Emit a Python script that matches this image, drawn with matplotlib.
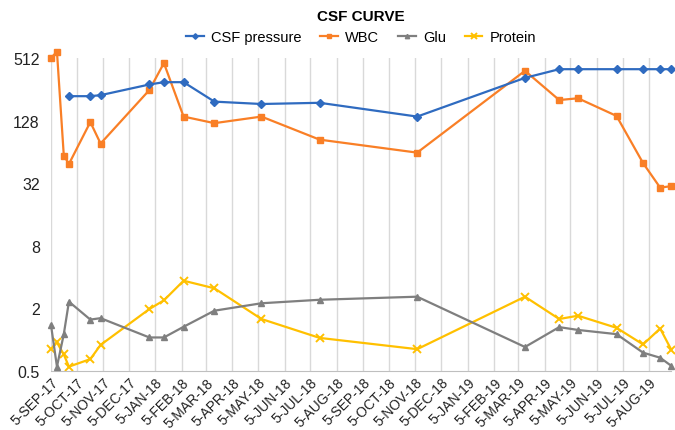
import matplotlib.pyplot as plt
import numpy as np
import pandas as pd

plt.rcParams['font.family'] = ['Liberation Sans', 'DejaVu Sans']

dates = pd.to_datetime([
    "2017-09-05", "2017-09-12", "2017-09-20", "2017-09-26", "2017-10-21",
    "2017-11-02", "2017-12-29", "2018-01-15", "2018-02-07", "2018-03-15",
    "2018-05-09", "2018-07-16", "2018-11-07", "2019-03-13", "2019-04-22",
    "2019-05-14", "2019-06-28", "2019-07-29", "2019-08-18", "2019-08-31",
])

csf_pressure = [np.nan, np.nan, np.nan, 220, 220, 225, 285, 300, 300, 195,
                185, 190, 140, 330, 400, 400, 400, 400, 400, 400]
wbc = [512, 590, 59, 49, 124, 77, 252, 458, 140, 121,
       140, 84, 63, 386, 202, 210, 142, 50, 29, 30]
glu = [1.39, 0.55, 1.13, 2.32, 1.56, 1.61, 1.05, 1.05, 1.33, 1.90,
       2.24, 2.42, 2.59, 0.85, 1.32, 1.24, 1.13, 0.75, 0.67, 0.56]
protein = [0.81, 0.94, 0.72, 0.55, 0.65, 0.89, 1.97, 2.39, 3.69, 3.12,
           1.58, 1.04, 0.81, 2.59, 1.58, 1.70, 1.30, 0.90, 1.28, 0.80]

tick_dates = pd.date_range("2017-09-01", periods=24, freq="MS") + pd.Timedelta(days=4)
tick_labels = [d.strftime("%-d-%b-%y").upper() for d in tick_dates]
y_ticks = [0.5, 2, 8, 32, 128, 512]

fig = plt.figure(figsize=(6.75, 4.31), dpi=100)
ax = fig.add_axes([0.0755, 0.137, 0.919, 0.726])

csf_mask = ~np.isnan(csf_pressure)
ax.plot(dates[csf_mask], np.array(csf_pressure)[csf_mask], color="#2F6BC0", marker="D",
        markersize=4, linewidth=1.6, label="CSF pressure", clip_on=False, zorder=5)
ax.plot(dates, wbc, color="#F97F26", marker="s", markersize=4.5, linewidth=1.6,
        label="WBC", clip_on=False, zorder=4)
ax.plot(dates, glu, color="#7F7F7F", marker="^", markersize=4.5, linewidth=1.6,
        label="Glu", clip_on=False, zorder=3)
ax.plot(dates, protein, color="#FFC000", marker="x", markersize=6, markeredgewidth=1.4,
        linewidth=1.6, label="Protein", clip_on=False, zorder=2)

ax.set_yscale("log", base=2)
ax.set_ylim(0.5, 512)
ax.set_yticks(y_ticks)
ax.set_yticklabels(["0.5", "2", "8", "32", "128", "512"], fontsize=11.5, color="#222222")
ax.minorticks_off()

ax.set_xlim(dates[0], dates[-1])
ax.set_xticks(tick_dates)
ax.set_xticklabels(tick_labels, rotation=45, ha="right", rotation_mode="anchor",
                   fontsize=10, color="#222222")
ax.xaxis.grid(True, color="#D9D9D9", linewidth=1)
ax.tick_params(axis="x", length=0, pad=3)
ax.tick_params(axis="y", length=0, pad=8)

for side in ["top", "right", "left"]:
    ax.spines[side].set_visible(False)
ax.spines["bottom"].set_color("#BFBFBF")

fig.text(0.535, 0.96, "CSF CURVE", ha="center", va="center", fontsize=11, fontweight="bold")
fig.legend(loc="center", bbox_to_anchor=(0.535, 0.912), ncol=4, frameon=False,
           fontsize=10.5, handlelength=1.2, columnspacing=1.3, handletextpad=0.5,
           markerscale=0.7)

fig.savefig("out.png", dpi=100)
